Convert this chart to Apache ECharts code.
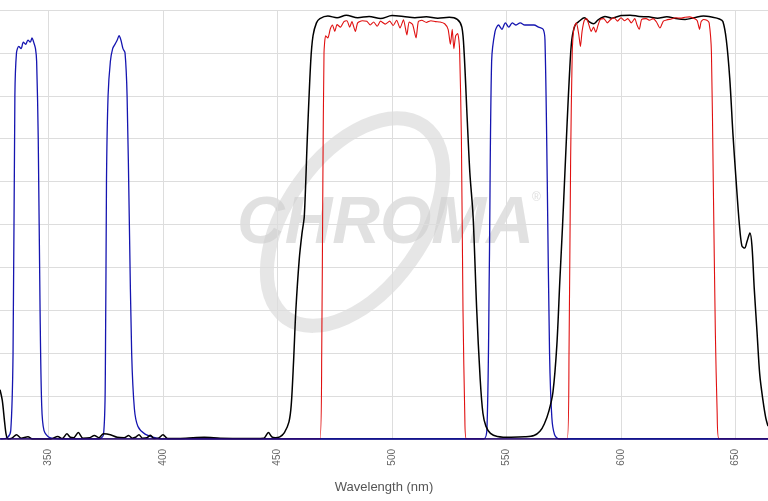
<!DOCTYPE html>
<html>
<head>
<meta charset="utf-8">
<title>Filter spectra</title>
<script src="https://cdn.jsdelivr.net/npm/echarts@6/dist/echarts.min.js"></script>
<style>html,body{margin:0;padding:0;background:#fff}</style>
</head>
<body>
<div id="main" style="width:768px;height:501px;"></div>
<script>
// wavelength ticks shown on the axis
var xTicks = [350, 400, 450, 500, 550, 600, 650];

// excitation (blue) - [nm, %T]
var blueData = [
  [329, 0], [332, 0.3], [333.5, 2], [334.5, 20], [335.3, 80], [336, 90], [337, 91.5], [338, 91], [339, 92.5],
  [340, 92], [341, 93], [342, 92.5], [342.8, 93.5], [343.5, 92.5], [344.3, 91], [344.8, 88], [345.5, 70],
  [346.3, 30], [347, 8], [348, 2], [350.5, 0.3], [356, 0], [372, 0], [374, 1], [374.8, 15], [375.3, 60],
  [376, 80], [377, 88], [378, 91], [379, 92], [380, 93], [380.8, 94], [381.6, 93], [382.5, 91], [383.4, 90],
  [384.3, 80], [385.3, 50], [386.3, 20], [387.5, 7], [389, 3], [392, 1.2], [396, 0.4], [400, 0], [540, 0],
  [541.5, 3], [542.5, 40], [543.5, 88], [545, 95], [546.5, 96.5], [548, 95.5], [549.5, 97], [551, 96],
  [552.5, 97], [554, 96.5], [556, 97], [558, 96.5], [560, 96.5], [562, 96.5], [564, 96], [566, 95.5],
  [566.8, 93], [567.8, 60], [568.8, 20], [569.8, 5], [571, 1], [573, 0], [665, 0]
];

// emission / dichroic trace (black)
var blackData = [
  [328.8, 11.5], [329.8, 9], [330.8, 4], [331.5, 1], [332.3, 0], [334, 0.2], [336, 1], [338, 0.2], [341, 0.5],
  [343, 0], [347, 0], [351, 0], [354, 0.6], [356, 0.1], [358, 1.2], [359.5, 0.4], [361, 0.3], [363, 1.5],
  [365, 0.2], [368, 0.3], [370, 0.8], [372, 0.3], [374, 1.2], [377, 1], [380, 0.4], [383, 0.3], [385, 0.8],
  [386.5, 0.2], [388, 0.4], [389.5, 1], [391, 0.2], [393, 0.3], [394.5, 0.9], [396, 0.1], [398, 0.2],
  [400, 1], [402, 0.1], [410, 0.2], [418, 0.4], [425, 0.2], [435, 0.1], [444, 0.2], [446, 1.5], [447.5, 0.5],
  [449, 0.3], [451, 0.5], [453, 1.5], [455, 4], [456, 8], [457, 18], [458, 30], [459.5, 42], [460.7, 48],
  [461.7, 52], [463, 70], [464.5, 88], [465.5, 94], [467, 97], [468.5, 98], [472, 98.6], [476, 98.2],
  [480, 98.8], [485, 98.2], [490, 98.5], [495, 98], [500, 98.7], [505, 98.5], [510, 98.2], [515, 98.4],
  [520, 98.1], [525, 98.3], [528.5, 97.8], [530.5, 96], [531.5, 90], [532.8, 75], [534, 62], [535.4, 52],
  [537, 30], [538.5, 14], [539.7, 6], [541, 3], [543, 1.3], [546, 0.6], [552, 0.4], [558, 0.5], [562, 0.8],
  [564.6, 1.8], [566.5, 3.5], [568.5, 6.5], [570.3, 11], [572, 22], [573.3, 37], [574.5, 50], [575.5, 62],
  [576.5, 74], [577.5, 85], [578.5, 93], [580, 96.5], [582, 97.5], [584, 98.2], [586, 97.3], [588, 96.8],
  [590, 97.7], [593, 98.5], [596, 98.1], [600, 98.7], [604, 98.8], [608, 98.5], [612, 98.4], [616, 98.1],
  [620, 98.4], [624, 98], [628, 97.8], [632, 98.2], [636, 98.6], [640, 98.3], [643, 97.9], [644.5, 97.3],
  [646, 93], [647.5, 84], [648.9, 71], [650.3, 60], [651.7, 50], [652.8, 45], [654, 44.5], [655, 46],
  [656.3, 48], [657.2, 45], [658.2, 35], [659.4, 25], [660.6, 15], [662, 9], [663.2, 5], [664.2, 3]
];

// emission (red) - with ripple on the passbands
var redData = [
  [329, 0], [468.5, 0], [469.3, 20], [469.8, 60], [470.3, 90], [471, 94], [472, 93.5], [473, 95.5], [474, 96.5],
  [475, 95], [476, 96.6], [477.5, 96], [479, 97.3], [480.3, 97.5], [481.5, 96], [482.5, 97.3], [484, 95],
  [485, 97], [487, 97.5], [489, 97.4], [490.5, 96.5], [492, 97.2], [493.5, 96.2], [495, 97.4], [497, 96.7],
  [499, 97.4], [500.5, 96.4], [502, 97.6], [503.5, 95.8], [505, 97.7], [506.5, 94.2], [507.5, 97.2],
  [509, 96.6], [510.5, 93.5], [511.5, 97.3], [513, 97.6], [515, 97.1], [517, 97.5], [519, 97.3], [521, 97.2],
  [523, 96.8], [524.5, 95.5], [525.5, 92], [526.3, 95.5], [527, 91], [527.8, 94], [528.7, 94.5], [529.5, 91],
  [530.3, 70], [531, 30], [531.8, 5], [532.5, 0], [576.5, 0], [577.3, 20], [578, 65], [578.7, 90], [579.5, 96],
  [580.5, 97], [581.5, 94.5], [582.3, 91.5], [583, 95], [584, 97.6], [585, 98], [586, 96.5], [587, 95],
  [588, 96], [589, 94.8], [590, 96.5], [591, 97.8], [592.5, 98], [594, 97], [595.5, 97.8], [597, 98.2],
  [598.5, 97.4], [600, 98.2], [601.5, 97.5], [603, 98], [604.5, 97], [606, 98], [607, 96.5], [608, 95.5],
  [609, 97.8], [611, 98], [612.5, 97.6], [614, 98], [615.5, 97.2], [617, 95.8], [618.5, 97.4], [620, 97.7],
  [622, 97.9], [624, 98.2], [626, 98.1], [628, 98.3], [630, 98.4], [632, 98], [633.3, 97.5], [634.3, 95.5],
  [635, 97.3], [636, 97.8], [637.5, 97.6], [638.5, 97], [639.5, 90], [640.3, 60], [641.2, 25], [642, 6],
  [642.8, 0], [665, 0]
];

var chart = echarts.init(document.getElementById('main'));
var option = {
  animation: false,
  textStyle: { fontFamily: 'Liberation Sans, Arial, sans-serif' },
  grid: { left: 0, right: 0, top: 10, bottom: 62 },
  graphic: [{
    type: 'text',
    left: 237,
    top: 192,
    z: 0,
    silent: true,
    style: {
      text: 'CHROMA',
      font: 'italic bold 66px "Liberation Sans Narrow", "Liberation Sans", Arial, sans-serif',
      fill: 'rgba(200,200,200,0.55)'
    }
  }, {
    type: 'text',
    left: 532,
    top: 192,
    z: 0,
    silent: true,
    style: { text: '®', font: '12px "Liberation Sans", Arial', fill: 'rgba(200,200,200,0.6)' }
  }, {
    type: 'ellipse',
    z: 0,
    silent: true,
    shape: { cx: 355, cy: 222, rx: 68, ry: 118 },
    rotation: -0.62,
    originX: 355,
    originY: 222,
    style: { fill: 'none', stroke: 'rgba(205,205,205,0.5)', lineWidth: 14 }
  }],
  xAxis: {
    type: 'value',
    min: 328.8,
    max: 664.2,
    name: 'Wavelength (nm)',
    nameLocation: 'middle',
    nameGap: 42,
    nameTextStyle: { color: '#555', fontSize: 13 },
    axisLine: { show: false },
    axisTick: { show: false, customValues: xTicks },
    axisLabel: { customValues: xTicks, rotate: 90, color: '#666', fontSize: 10, margin: 10 },
    splitLine: { show: true, lineStyle: { color: '#dddddd', width: 1 } }
  },
  yAxis: {
    type: 'value',
    min: 0,
    max: 100,
    interval: 10,
    axisLine: { show: false },
    axisTick: { show: false },
    axisLabel: { show: false },
    splitLine: { lineStyle: { color: '#dddddd', width: 1 } }
  },
  series: [
    {
      name: 'Excitation', type: 'line', data: blueData, showSymbol: false, smooth: 0.3,
      lineStyle: { color: '#1515b0', width: 1.3 }, z: 3
    },
    {
      name: 'Dichroic', type: 'line', data: blackData, showSymbol: false, smooth: 0.3,
      lineStyle: { color: '#000', width: 1.5 }, z: 4
    },
    {
      name: 'Emission', type: 'line', data: redData, showSymbol: false, smooth: 0.2,
      lineStyle: { color: '#e01010', width: 1.1 }, z: 5
    },
    {
      name: 'base', type: 'line', data: [[328.8, 0], [664.2, 0]], showSymbol: false,
      lineStyle: { color: '#00007a', width: 1.5 }, z: 6
    }
  ]
};
chart.setOption(option);
</script>
</body>
</html>
